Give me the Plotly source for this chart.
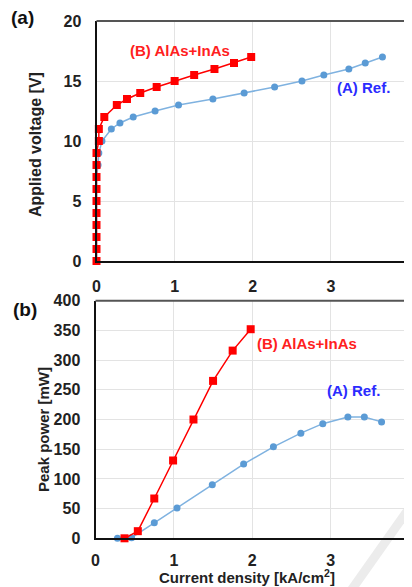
import plotly.graph_objects as go

# ---- data ----
# (a) Applied voltage vs current density
a_ref_j = [0.0, 0.0, 0.0, 0.0, 0.0, 0.0, 0.0, 0.0, 0.02, 0.03, 0.07, 0.19, 0.30, 0.47, 0.75, 1.05,
           1.49, 1.89, 2.28, 2.63, 2.91, 3.23, 3.44, 3.66]
a_ref_v = [0, 1, 2, 3, 4, 5, 6, 7, 8, 9, 10, 11, 11.5, 12, 12.5, 13,
           13.5, 14, 14.5, 15, 15.5, 16, 16.5, 17]
a_b_j = [0.0, 0.0, 0.0, 0.0, 0.0, 0.0, 0.0, 0.0, 0.0, 0.0, 0.03, 0.03, 0.10, 0.26, 0.39, 0.56,
         0.77, 1.00, 1.25, 1.51, 1.76, 1.98]
a_b_v = [0, 1, 2, 3, 4, 5, 6, 7, 8, 9, 10, 11, 12, 13, 13.5, 14,
         14.5, 15, 15.5, 16, 16.5, 17]

# (b) Peak power vs current density
b_ref_j = [0.28, 0.46, 0.75, 1.04, 1.49, 1.89, 2.27, 2.62, 2.90, 3.22, 3.43, 3.65]
b_ref_p = [0, 1, 26, 51, 90, 125, 154, 177, 193, 204, 204, 196]
b_b_j = [0.37, 0.54, 0.75, 0.99, 1.25, 1.50, 1.75, 1.98]
b_b_p = [0, 12, 67, 131, 200, 265, 316, 352]

x_ticks = [0, 1, 2, 3, 4]
a_y_ticks = [0, 5, 10, 15, 20]
b_y_ticks = [0, 50, 100, 150, 200, 250, 300, 350, 400]

RED = "#ff0000"
BLUE_M = "#5b9bd5"
BLUE_T = "#2b2bff"
FONT = "Liberation Sans"

# page is 412x587; the body has an 8px margin, so the figure is drawn 8px in
OFF = 8
W, H = 412 - OFF, 587 - OFF
def px(x):
    return (x - OFF) / W
def py(y):
    return 1 - (y - OFF) / H

fig = go.Figure()

ref_line = dict(color="#7fb2e0", width=1.5)
ref_marker = dict(color=BLUE_M, size=7, symbol="circle")
b_line = dict(color=RED, width=1.5)
b_marker = dict(color=RED, size=8, symbol="square")

fig.add_trace(go.Scatter(x=a_ref_j, y=a_ref_v, mode="lines+markers", line=ref_line,
                         marker=ref_marker, xaxis="x", yaxis="y", cliponaxis=False, showlegend=False))
fig.add_trace(go.Scatter(x=a_b_j, y=a_b_v, mode="lines+markers", line=b_line,
                         marker=b_marker, xaxis="x", yaxis="y", cliponaxis=False, showlegend=False))
fig.add_trace(go.Scatter(x=b_ref_j, y=b_ref_p, mode="lines+markers", line=ref_line,
                         marker=ref_marker, xaxis="x2", yaxis="y2", cliponaxis=False, showlegend=False))
fig.add_trace(go.Scatter(x=b_b_j, y=b_b_p, mode="lines+markers", line=b_line,
                         marker=b_marker, xaxis="x2", yaxis="y2", cliponaxis=False, showlegend=False))

tickfont = dict(family=FONT, size=16, color="#222222")

common_ax = dict(showgrid=True, gridcolor="#e3e3e3", gridwidth=1, zeroline=False,
                 showline=True, linecolor="#111111", linewidth=2, ticks="",
                 tickfont=tickfont, automargin=False, ticklabeloverflow="allow")

fig.update_layout(
    width=W, height=H,
    margin=dict(l=0, r=0, t=0, b=0),
    paper_bgcolor="white", plot_bgcolor="rgba(0,0,0,0)",
    xaxis=dict(domain=[px(96.5), px(409)], range=[0, 4], tickvals=x_ticks,
               ticktext=[f"<b>{t}</b>" for t in x_ticks], anchor="y",
               ticklabelstandoff=10, **common_ax),
    yaxis=dict(domain=[py(261), py(21)], range=[0, 20], tickvals=a_y_ticks,
               ticktext=[f"<b>{t}</b>" for t in a_y_ticks], anchor="x",
               ticklabelstandoff=10, **common_ax),
    xaxis2=dict(domain=[px(95.5), px(409)], range=[0, 4], tickvals=x_ticks,
                ticktext=[f"<b>{t}</b>" for t in x_ticks], anchor="y2",
                ticklabelstandoff=6, **common_ax),
    yaxis2=dict(domain=[py(538.3), py(300.7)], range=[0, 400], tickvals=b_y_ticks,
                ticktext=[f"<b>{t}</b>" for t in b_y_ticks], anchor="x2",
                ticklabelstandoff=10, **common_ax),
)

# top/right frame lines (dark gray)
for (x0, x1, y0, y1) in [(96.5, 409, 261, 21), (95.5, 409, 538.3, 300.7)]:
    fig.add_shape(type="line", xref="paper", yref="paper", x0=px(x0), x1=px(x1), y0=py(y1), y1=py(y1),
                  line=dict(color="#555555", width=2))
    fig.add_shape(type="line", xref="paper", yref="paper", x0=px(x1), x1=px(x1), y0=py(y0), y1=py(y1),
                  line=dict(color="#555555", width=2))

# faint watermark stripe
fig.add_shape(type="line", xref="paper", yref="paper", x0=px(350), y0=py(592), x1=px(415), y1=py(500),
              line=dict(color="#ececec", width=9), layer="below")

def ann(x, y, text, color, size, angle=0):
    fig.add_annotation(x=px(x), y=py(y), xref="paper", yref="paper", text=text,
                       showarrow=False, textangle=angle, xanchor="center", yanchor="middle",
                       font=dict(family=FONT, size=size, color=color))

ann(180, 50, "<b>(B) AlAs+InAs</b>", "#ff2020", 15)
ann(363, 88, "<b>(A) Ref.</b>", BLUE_T, 15)
ann(306.5, 343, "<b>(B) AlAs+InAs</b>", "#ff2020", 15)
ann(353, 391, "<b>(A) Ref.</b>", BLUE_T, 15)
ann(22, 17, "<b>(a)</b>", "#111111", 19)
ann(25, 309, "<b>(b)</b>", "#111111", 19)

# axis titles
ann(35, 145, "<b>Applied voltage [V]</b>", "#222222", 16, -90)
ann(43, 430, "<b>Peak power [mW]</b>", "#222222", 15, -90)
ann(247, 576, "<b>Current density [kA/cm<sup>2</sup>]</b>", "#222222", 15)

fig.write_html("out.html")
